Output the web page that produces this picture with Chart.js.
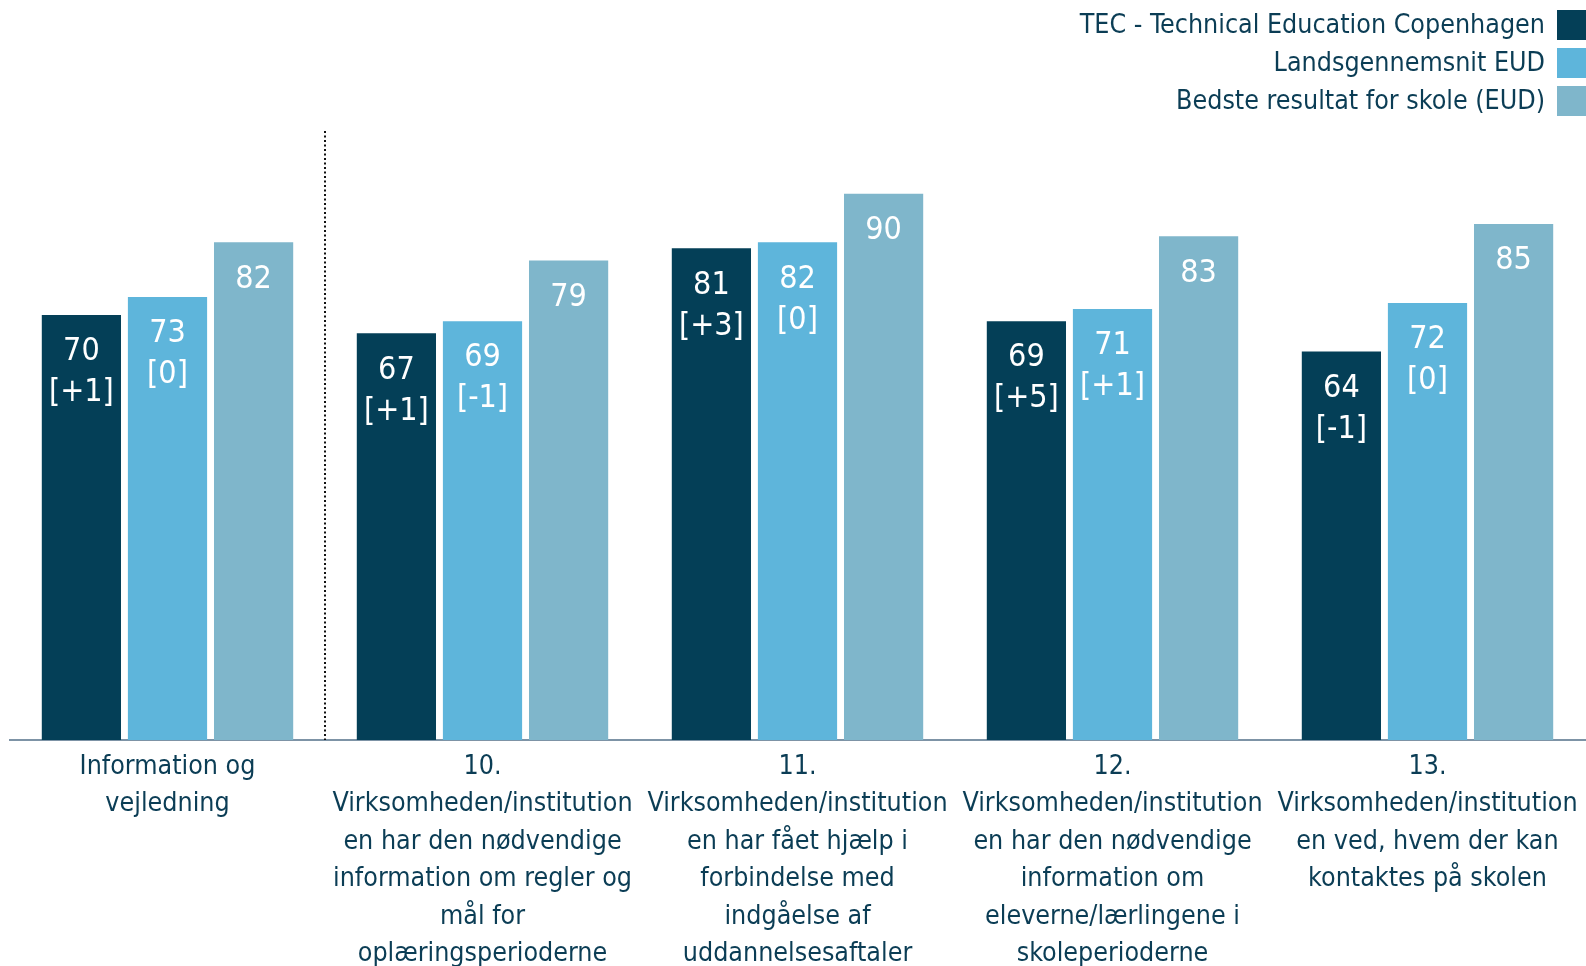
<!DOCTYPE html>
<html lang="da">
  <head>
    <meta charset="UTF-8" />
    <meta name="viewport" content="width=device-width, initial-scale=1.0" />
    <script src="https://cdn.jsdelivr.net/npm/chart.js"></script>
    <title>Information og vejledning</title>
    <style>
      html, body { margin: 0; padding: 0; background: #fff; overflow: hidden; }
      #wrap { width: 1586px; height: 966px; }
    </style>
  </head>
  <body>
    <div id="wrap">
      <canvas id="chart"></canvas>
    </div>
    <script>
      const categories = [
        ["Information og", "vejledning"],
        ["10.", "Virksomheden/institution", "en har den nødvendige", "information om regler og", "mål for", "oplæringsperioderne"],
        ["11.", "Virksomheden/institution", "en har fået hjælp i", "forbindelse med", "indgåelse af", "uddannelsesaftaler"],
        ["12.", "Virksomheden/institution", "en har den nødvendige", "information om", "eleverne/lærlingene i", "skoleperioderne"],
        ["13.", "Virksomheden/institution", "en ved, hvem der kan", "kontaktes på skolen"]
      ];
      const seriesNames = ["TEC - Technical Education Copenhagen", "Landsgennemsnit EUD", "Bedste resultat for skole (EUD)"];
      const tecValues = [70, 67, 81, 69, 64];
      const landsValues = [73, 69, 82, 71, 72];
      const bestValues = [82, 79, 90, 83, 85];
      const tecChanges = ["[+1]", "[+1]", "[+3]", "[+5]", "[-1]"];
      const landsChanges = ["[0]", "[-1]", "[0]", "[+1]", "[0]"];
      const bestChanges = [null, null, null, null, null];

      const colors = ["#043f57", "#5eb5db", "#7fb6cb"];
      const textColor = "#0b3d55";
      const fontFamily = "'DejaVu Sans Condensed', 'DejaVu Sans', sans-serif";

      // value + change labels inside the bars
      const barLabels = {
        id: 'barLabels',
        afterDatasetsDraw(chart) {
          const ctx = chart.ctx;
          ctx.save();
          ctx.fillStyle = '#fff';
          ctx.textAlign = 'center';
          ctx.textBaseline = 'middle';
          ctx.font = '32px ' + fontFamily;
          chart.data.datasets.forEach((ds, i) => {
            chart.getDatasetMeta(i).data.forEach((bar, j) => {
              ctx.fillText(String(ds.data[j]), bar.x, bar.y + 37);
              if (ds.changes[j]) ctx.fillText(ds.changes[j], bar.x, bar.y + 78);
            });
          });
          ctx.restore();
        }
      };

      // dotted separator after the first group + legend top right
      const extras = {
        id: 'extras',
        afterDraw(chart) {
          const ctx = chart.ctx;
          const x = chart.scales.x;
          const sepX = (x.getPixelForValue(0) + x.getPixelForValue(1)) / 2;
          ctx.save();
          ctx.strokeStyle = '#111';
          ctx.lineWidth = 2;
          ctx.setLineDash([2, 2.5]);
          ctx.beginPath();
          ctx.moveTo(sepX, 131);
          ctx.lineTo(sepX, chart.chartArea.bottom);
          ctx.stroke();
          ctx.setLineDash([]);

          ctx.font = '26.6px ' + fontFamily;
          ctx.textAlign = 'right';
          ctx.textBaseline = 'middle';
          chart.data.datasets.forEach((ds, i) => {
            const cy = 25 + i * 38;
            ctx.fillStyle = textColor;
            ctx.fillText(ds.label, 1545, cy + 1);
            ctx.fillStyle = ds.backgroundColor;
            ctx.fillRect(1557, cy - 15, 29, 30);
          });
          ctx.restore();
        }
      };

      new Chart(document.getElementById('chart'), {
        type: 'bar',
        data: {
          labels: categories,
          datasets: [
            { label: seriesNames[0], data: tecValues, changes: tecChanges, backgroundColor: colors[0] },
            { label: seriesNames[1], data: landsValues, changes: landsChanges, backgroundColor: colors[1] },
            { label: seriesNames[2], data: bestValues, changes: bestChanges, backgroundColor: colors[2] }
          ]
        },
        options: {
          responsive: true,
          maintainAspectRatio: false,
          animation: false,
          categoryPercentage: 0.82,
          barPercentage: 0.92,
          layout: { padding: { top: 133, left: 10, right: 1, bottom: 0 } },
          plugins: {
            legend: { display: false },
            tooltip: { enabled: false }
          },
          scales: {
            y: {
              display: false,
              min: 0,
              max: 100
            },
            x: {
              grid: { display: false, drawTicks: false },
              border: { display: true, color: '#7d93a6', width: 2 },
              afterFit: (scale) => { scale.height = 226; scale.paddingRight = 0; },
              ticks: {
                autoSkip: false,
                maxRotation: 0,
                padding: 8,
                color: textColor,
                font: { family: fontFamily, size: 26.6, lineHeight: 1.41 }
              }
            }
          }
        },
        plugins: [barLabels, extras]
      });
    </script>
  </body>
</html>
